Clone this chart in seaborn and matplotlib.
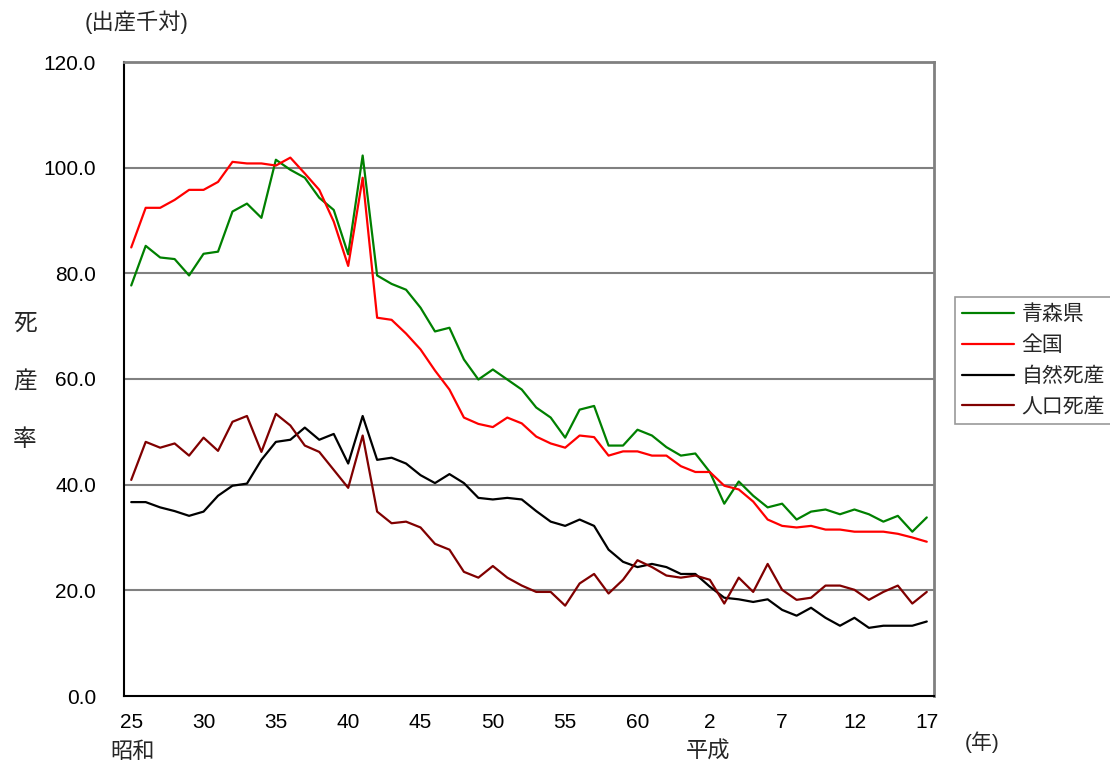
import matplotlib
matplotlib.use("Agg")
import matplotlib.pyplot as plt
import seaborn as sns
import pandas as pd
import numpy as np

# ---- data (Showa 25 .. Heisei 17) ----
years = list(range(1950, 2006))
tick_labels = ["25", "30", "35", "40", "45", "50", "55", "60", "2", "7", "12", "17"]

aomori = [77.7, 85.2, 83.0, 82.7, 79.6, 83.7, 84.1, 91.7, 93.2, 90.5,
          101.5, 99.6, 98.1, 94.3, 92.0, 83.6, 102.3, 79.6, 78.0, 76.9,
          73.5, 69.0, 69.7, 63.7, 59.9, 61.8, 59.9, 58.0, 54.6, 52.7,
          48.9, 54.2, 54.9, 47.4, 47.4, 50.4, 49.3, 47.1, 45.5, 45.9,
          42.4, 36.4, 40.6, 37.9, 35.7, 36.4, 33.4, 34.9, 35.3, 34.4,
          35.3, 34.4, 33.0, 34.1, 31.1, 33.8]
zenkoku = [84.9, 92.4, 92.4, 93.9, 95.8, 95.8, 97.3, 101.1, 100.8, 100.8,
           100.4, 101.9, 98.9, 95.8, 89.8, 81.4, 98.1, 71.6, 71.2, 68.6,
           65.6, 61.6, 58.0, 52.7, 51.5, 50.9, 52.7, 51.6, 49.1, 47.8,
           47.0, 49.3, 49.0, 45.5, 46.3, 46.3, 45.5, 45.5, 43.5, 42.4,
           42.4, 39.8, 39.1, 36.8, 33.4, 32.2, 31.9, 32.2, 31.5, 31.5,
           31.1, 31.1, 31.1, 30.7, 30.0, 29.2]
shizen = [36.7, 36.7, 35.7, 35.0, 34.1, 34.9, 37.9, 39.8, 40.2, 44.7,
          48.1, 48.5, 50.8, 48.5, 49.6, 44.0, 53.0, 44.7, 45.1, 44.0,
          41.8, 40.3, 42.0, 40.3, 37.5, 37.2, 37.5, 37.2, 35.0, 33.0,
          32.2, 33.4, 32.2, 27.7, 25.4, 24.4, 25.0, 24.4, 23.1, 23.1,
          20.7, 18.6, 18.3, 17.8, 18.3, 16.3, 15.2, 16.7, 14.8, 13.3,
          14.8, 12.9, 13.3, 13.3, 13.3, 14.1]
jinko = [40.9, 48.1, 47.0, 47.8, 45.5, 48.9, 46.4, 51.9, 53.0, 46.2,
         53.4, 51.2, 47.4, 46.2, 42.8, 39.4, 49.3, 34.9, 32.7, 33.0,
         31.9, 28.8, 27.7, 23.5, 22.4, 24.6, 22.4, 20.9, 19.7, 19.7,
         17.1, 21.3, 23.1, 19.4, 22.0, 25.7, 24.4, 22.8, 22.4, 22.8,
         22.0, 17.5, 22.4, 19.7, 25.0, 20.1, 18.2, 18.6, 20.9, 20.9,
         20.1, 18.2, 19.7, 20.9, 17.5, 19.7]

series_names = ["青森県", "全国", "自然死産", "人口死産"]
series_values = [aomori, zenkoku, shizen, jinko]
colors = ["#008000", "#FF0000", "#000000", "#800000"]

sns.set_theme(style="white")
plt.rcParams["font.family"] = ["Liberation Sans", "Noto Sans CJK JP"]

n = len(years)
idx = np.arange(n)
df = pd.concat([pd.DataFrame({"i": idx, "value": v, "series": name})
                for name, v in zip(series_names, series_values)],
               ignore_index=True)

fig = plt.figure(figsize=(11.10, 7.66), dpi=100)
ax = fig.add_axes([124/1110, 1-696/766, 810/1110, 634/766])

sns.lineplot(data=df, x="i", y="value", hue="series", hue_order=series_names,
             palette=dict(zip(series_names, colors)), linewidth=1.6,
             ax=ax, legend=False, sort=False)

ax.set_xlim(-0.5, n - 0.5)
ax.set_ylim(0, 120)
ax.set_xlabel("")
ax.set_ylabel("")

# y axis
yt = np.arange(0, 121, 20)
ax.set_yticks(yt)
ax.set_yticklabels([f"{v:.1f}" for v in yt], fontsize=15, color="black")
ax.tick_params(axis="y", direction="in", length=5, width=1, pad=20, color="black")
for v in yt[1:-1]:
    ax.axhline(v, color="#808080", lw=1.5, zorder=0)

# x axis
major = [0, 5, 10, 15, 20, 25, 30, 35, 40, 45, 50, 55]
ax.set_xticks(major)
ax.set_xticklabels(tick_labels, fontsize=15, color="black")
ax.set_xticks(np.arange(0.5, n - 1, 1.0), minor=True)
ax.tick_params(axis="x", which="major", length=0, pad=12)
ax.tick_params(axis="x", which="minor", direction="in", length=7, width=1, color="black")

for s in ["left", "bottom"]:
    ax.spines[s].set_color("black")
    ax.spines[s].set_linewidth(1.5)
for s in ["top", "right"]:
    ax.spines[s].set_color("#808080")
    ax.spines[s].set_linewidth(2)
    ax.spines[s].set_visible(True)

# texts
fig.text(137/1110, 1-22/766, "(出産千対)", ha="center", va="center", fontsize=16)
fig.text(25/1110, 1-382/766, "死\n産\n率", ha="center", va="center",
         fontsize=17, linespacing=3.1)
fig.text(133/1110, 1-752/766, "昭和", ha="center", va="center", fontsize=16)
fig.text(708/1110, 1-752/766, "平成", ha="center", va="center", fontsize=16)
fig.text(982/1110, 1-742/766, "(年)", ha="center", va="center", fontsize=15)

# legend
from matplotlib.lines import Line2D
handles = [Line2D([0], [0], color=c, lw=1.6) for c in colors]
leg = fig.legend(handles, series_names, loc="upper left",
                 bbox_to_anchor=(955/1110, 1-297/766), borderaxespad=0,
                 fontsize=15, handlelength=2.5, handletextpad=0.35,
                 labelspacing=0.55, borderpad=0.35, frameon=True, fancybox=False)
leg.get_frame().set_edgecolor("#808080")
leg.get_frame().set_linewidth(1.2)

fig.savefig("out.png", dpi=100)
